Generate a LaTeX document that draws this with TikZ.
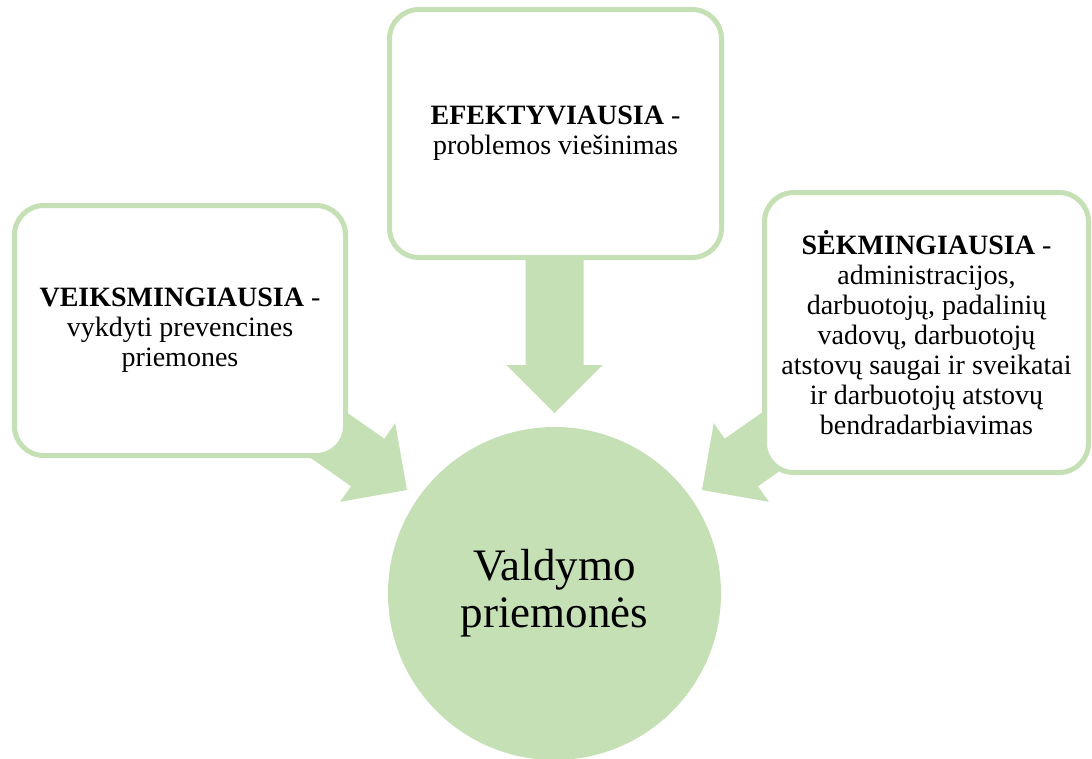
\documentclass[tikz,border=0pt]{standalone}
\usepackage{fontspec}
\setmainfont{Liberation Serif}
\usepackage{xcolor}
\usepackage{tikz}
\usetikzlibrary{positioning}

\definecolor{lightgreen}{HTML}{C5E0B4}

\tikzset{
	box/.style={draw=lightgreen,line width=3.75pt,fill=white,rounded corners=22pt,
		align=center,inner sep=0pt,font=\fontsize{21}{22.5}\selectfont},
	hub/.style={circle,fill=lightgreen,inner sep=0pt,minimum size=249.75pt,
		align=center,font=\fontsize{33.75}{35.25}\selectfont}
}

% block arrow: tip, direction
\newcommand{\greenarrow}[2]{%
	\fill[lightgreen,shift={(#1)},rotate=#2] (0,0) -- (-48,-48) -- (-48,-29) -- (-260,-29)
		-- (-260,29) -- (-48,29) -- (-48,48) -- cycle;}

\begin{document}
\begin{tikzpicture}[x=0.75pt,y=-0.75pt]
		\useasboundingbox (0,0) rectangle (1092,758);
		\coordinate (tipL) at (407,490);
		\coordinate (tipT) at (554.5,413);
		\coordinate (tipR) at (702,490);
		\greenarrow{tipL}{-35}
		\greenarrow{tipT}{-90}
		\greenarrow{tipR}{-145}
		\node[hub] (valdymas) at (554.5,593.5) {Valdymo\\priemonės};
		\node[box,minimum width=248.25pt,minimum height=187.5pt] (veiks) at (180,330.5)
			{\textbf{VEIKSMINGIAUSIA} -\\vykdyti prevencines\\priemones};
		\node[box,minimum width=249pt,minimum height=186pt] (efekt) at (555.5,133.5)
			{\textbf{EFEKTYVIAUSIA} -\\problemos viešinimas};
		\node[box,minimum width=243pt,minimum height=210pt] (sekm) at (926.5,332.5)
			{\textbf{SĖKMINGIAUSIA} -\\administracijos,\\darbuotojų, padalinių\\vadovų, darbuotojų\\atstovų saugai ir sveikatai\\ir darbuotojų atstovų\\bendradarbiavimas};
	\end{tikzpicture}
\end{document}
